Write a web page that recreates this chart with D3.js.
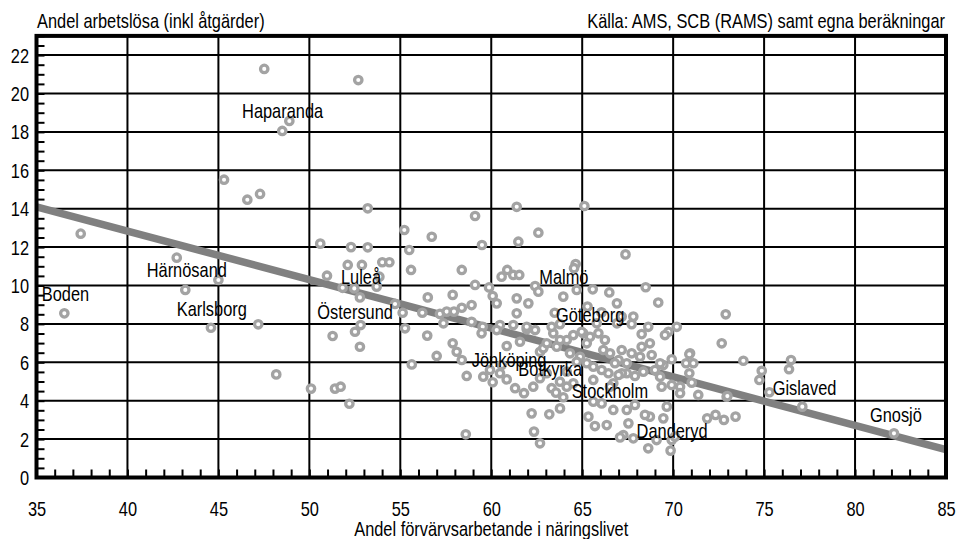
<!DOCTYPE html>
<html><head><meta charset="utf-8">
<script src="https://cdn.jsdelivr.net/npm/d3@7"></script>
<style>
body{margin:0;background:#fff}
svg{display:block}
text{font-family:"Liberation Sans Narrow","Liberation Sans",Arial,sans-serif;fill:#000}
</style>
</head><body>
<svg id="chart" width="956" height="539"></svg>
<script>
// ---- data ----
const xTickValues = [35, 40, 45, 50, 55, 60, 65, 70, 75, 80, 85];
const yTickValues = [0, 2, 4, 6, 8, 10, 12, 14, 16, 18, 20, 22];
const titleY = "Andel arbetslösa (inkl åtgärder)";
const titleX = "Andel förvärvsarbetande i näringslivet";
const sourceText = "Källa: AMS, SCB (RAMS) samt egna beräkningar";

// municipalities: share employed in private sector (x), unemployment incl. measures (y)
const pointsX = [47.52,52.69,48.90,48.51,45.31,47.29,46.59,37.43,50.60,52.29,42.71,52.11,52.89,50.97,45.00,43.18,51.83,52.47,52.78,36.53,47.19,44.59,51.28,52.51,52.82,52.78,48.18,50.09,51.41,51.72,52.20,
53.21,59.11,55.22,56.73,53.21,59.49,55.49,54.01,54.40,55.59,58.38,53.85,53.70,59.11,59.88,57.88,56.51,58.92,60.08,60.30,54.71,55.13,56.21,57.18,57.55,57.95,58.38,57.37,58.92,59.53,55.26,60.48,
61.40,65.12,62.59,61.49,67.38,64.64,64.55,60.88,61.21,61.54,60.57,62.41,62.59,64.70,65.58,66.49,68.49,63.96,61.40,62.04,65.29,66.91,69.18,63.49,61.40,66.06,68.63,67.72,63.78,
56.48,57.88,58.10,57.00,58.38,55.63,58.65,59.56,60.08,60.48,60.85,61.31,61.80,62.31,62.68,59.47,60.30,60.85,61.58,61.95,62.41,62.68,59.93,60.57,62.22,63.19,63.78,58.60,62.35,62.68,63.32,63.56,63.96,64.15,64.51,65.34,65.70,65.61,65.25,64.88,63.60,64.15,62.86,
72.67,73.86,74.87,74.74,72.94,71.38,70.93,70.71,71.11,70.89,71.02,70.38,70.38,69.92,69.92,69.46,70.20,69.74,69.55,68.72,68.27,68.82,69.28,69.37,69.65,69.46,68.72,68.45,67.90,67.45,66.71,67.54,66.35,66.07,65.61,67.26,67.08,67.81,68.63,69.09,69.86,69.92,70.10,71.87,72.33,72.79,73.43,66.71,67.90,68.36,67.45,67.18,66.44,66.53,68.27,
72.89,70.89,76.48,76.37,75.29,77.10,72.98,82.14,
65.06,65.43,65.89,66.25,66.16,66.53,67.17,67.72,68.18,69.28,67.45,67.00,66.80,65.61,66.07,67.00,69.00,
63.41,63.78,64.51,64.97,65.25,63.05,64.33,64.70,64.15,63.05,63.78,
61.21,61.95,63.32,65.80,66.91,67.17,67.81];
const pointsY = [21.28,20.70,18.57,18.05,15.51,14.77,14.47,12.70,12.18,12.00,11.45,11.07,11.07,10.51,10.29,9.77,9.88,9.85,9.38,8.55,7.98,7.80,7.37,7.59,7.94,6.81,5.37,4.63,4.63,4.73,3.84,
14.02,13.62,12.89,12.54,11.99,12.11,11.85,11.21,11.21,10.81,10.81,10.46,9.94,10.03,9.90,9.51,9.38,8.98,9.45,9.07,9.04,8.58,8.58,8.52,8.64,8.64,8.84,8.03,8.11,7.85,7.77,7.94,
14.10,14.14,12.75,12.28,11.62,11.12,10.90,10.81,10.55,10.55,10.46,9.97,9.68,9.77,9.80,9.64,9.91,9.42,9.33,9.07,8.90,9.07,9.11,8.58,8.55,8.60,7.85,7.99,7.99,
7.39,6.99,6.55,6.33,6.12,5.89,5.29,5.25,4.96,5.43,5.11,4.65,4.39,4.73,5.17,7.51,7.68,6.85,7.07,7.72,7.68,6.55,5.60,5.86,3.34,3.29,3.60,2.25,2.39,1.78,4.65,4.42,4.18,4.73,4.91,3.17,2.68,5.08,5.95,6.29,6.81,7.16,6.73,
6.99,6.08,5.56,5.08,4.21,4.30,6.47,5.95,5.95,5.43,4.94,4.73,4.39,4.82,6.16,5.86,7.85,7.59,7.42,6.99,6.81,6.38,5.25,4.73,3.69,3.08,3.17,3.26,3.78,3.52,3.52,2.82,2.73,3.86,3.95,2.21,2.09,2.04,1.52,1.95,1.40,1.95,2.13,3.08,3.26,3.00,3.17,4.91,5.29,5.51,5.43,5.43,5.43,4.73,7.47,
8.50,6.42,6.12,5.64,4.44,3.69,4.24,2.30,
7.51,7.33,7.51,7.16,6.64,6.47,6.64,6.47,6.29,5.95,5.95,6.12,5.95,5.77,5.60,5.34,5.60,
7.51,7.16,7.42,7.59,6.99,6.99,6.47,6.03,5.51,5.43,4.99,
7.94,7.85,7.85,8.03,8.03,8.38,8.38];

// named municipalities: label anchor in data units
const labelNames = ["Haparanda","Härnösand","Boden","Karlsborg","Östersund","Luleå","Malmö","Göteborg","Jönköping","Botkyrka","Stockholm","Danderyd","Gislaved","Gnosjö"];
const labelX = [46.30,41.06,35.29,42.71,50.44,51.74,62.64,63.56,58.93,61.49,64.42,67.99,75.47,80.82];
const labelY = [18.72,10.43,9.21,8.41,8.23,10.06,10.08,8.11,5.77,5.29,4.13,2.04,4.30,2.91];

// regression line end points
const trendX = [35, 85];
const trendY = [14.1, 1.45];

// ---- drawing ----
const SX = 0.82; // horizontal condensing of the font
const svg = d3.select("#chart");
const x = d3.scaleLinear().domain([35, 85]).range([36.5, 946]);
const y = d3.scaleLinear().domain([0, 23]).range([477.5, 35.9]);

function addText(parent, px, py, str, anchor) {
  return parent.append("text")
    .attr("transform", `translate(${px},${py}) scale(${SX},1)`)
    .attr("text-anchor", anchor || "start")
    .attr("font-size", 20).text(str);
}

// grid
const g = svg.append("g");
g.selectAll(".vg").data(xTickValues.slice(1, -1)).join("line")
  .attr("x1", d => x(d)).attr("x2", d => x(d))
  .attr("y1", y(23)).attr("y2", y(0))
  .attr("stroke", "#000").attr("stroke-width", 2);
g.selectAll(".hg").data(yTickValues.slice(1)).join("line")
  .attr("x1", x(35)).attr("x2", x(85))
  .attr("y1", d => y(d)).attr("y2", d => y(d))
  .attr("stroke", "#000").attr("stroke-width", 2);

// minor ticks
const xMinor = svg.append("g").attr("transform", `translate(0,${y(0)})`)
  .call(d3.axisBottom(x).tickValues(d3.range(35, 86, 1)).tickSize(-8).tickFormat(""));
xMinor.select(".domain").remove();
xMinor.selectAll("line").attr("stroke", "#000").attr("stroke-width", 2);
const yMinor = svg.append("g").attr("transform", `translate(${x(35)},0)`)
  .call(d3.axisLeft(y).tickValues(d3.range(0, 23.01, 0.5)).tickSize(-8).tickFormat(""));
yMinor.select(".domain").remove();
yMinor.selectAll("line").attr("stroke", "#000").attr("stroke-width", 2);

// tick labels
const xAx = svg.append("g").attr("transform", `translate(0,${y(0)})`)
  .call(d3.axisBottom(x).tickValues(xTickValues).tickSize(0).tickPadding(0));
xAx.select(".domain").remove();
xAx.selectAll("text").attr("font-size", 20).attr("font-family", null).attr("fill", "#000")
  .attr("y", null).attr("dy", null).attr("transform", `translate(0,38) scale(${SX},1)`);
const yAx = svg.append("g").attr("transform", `translate(${x(35)},0)`)
  .call(d3.axisLeft(y).tickValues(yTickValues).tickSize(0).tickPadding(0));
yAx.select(".domain").remove();
yAx.selectAll("text").attr("font-size", 20).attr("font-family", null).attr("fill", "#000")
  .attr("x", null).attr("dy", null).attr("transform", `translate(-7.5,7) scale(${SX},1)`);

// trend line
svg.append("line")
  .attr("x1", x(trendX[0])).attr("y1", y(trendY[0]))
  .attr("x2", x(trendX[1])).attr("y2", y(trendY[1]))
  .attr("stroke", "#808080").attr("stroke-width", 7.5);

// points
svg.append("g").selectAll("circle").data(pointsX.map((v, i) => [v, pointsY[i]])).join("circle")
  .attr("cx", d => x(d[0])).attr("cy", d => y(d[1])).attr("r", 3.7)
  .attr("fill", "#fff").attr("stroke", "#a3a3a3").attr("stroke-width", 3.3);

// frame
svg.append("rect").attr("x", x(35)).attr("y", y(23))
  .attr("width", x(85) - x(35)).attr("height", y(0) - y(23))
  .attr("fill", "none").attr("stroke", "#000").attr("stroke-width", 4);

// labels
const lg = svg.append("g");
labelNames.forEach((d, i) => addText(lg, x(labelX[i]), y(labelY[i]), d, "start"));

// titles
addText(svg, 37, 28, titleY, "start");
addText(svg, 945, 28, sourceText, "end");
addText(svg, (x(35) + x(85)) / 2, 536, titleX, "middle");
</script>
</body></html>
